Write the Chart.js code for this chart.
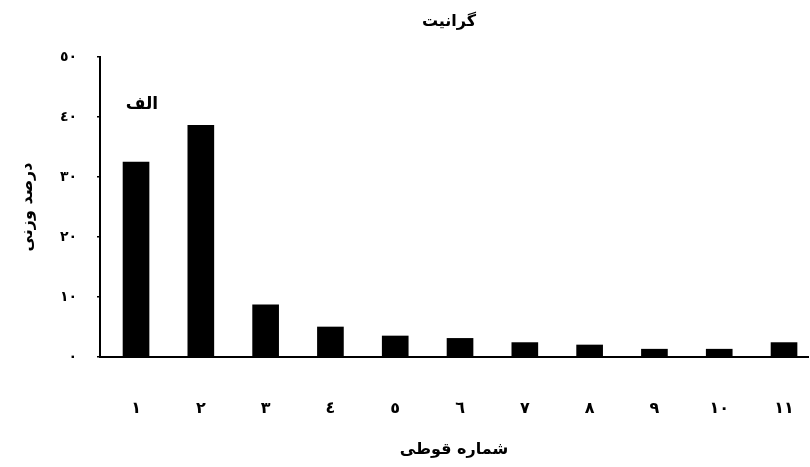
<!DOCTYPE html>
<html>
<head>
<meta charset="utf-8">
<script src="https://cdn.jsdelivr.net/npm/chart.js@4/dist/chart.umd.min.js"></script>
<style>
html,body{margin:0;padding:0;background:#fff;}
#c{display:block;}
</style>
</head>
<body>
<canvas id="c" width="810" height="467"></canvas>
<script>
// ---- data ----
const categories = [1, 2, 3, 4, 5, 6, 7, 8, 9, 10, 11];
const xTickLabels = ['١', '٢', '٣', '٤', '٥', '٦', '٧', '٨', '٩', '١٠', '١١'];
const weightPercent = [32.5, 38.6, 8.7, 5.0, 3.5, 3.1, 2.4, 2.0, 1.3, 1.3, 2.4];
const yTickValues = [0, 10, 20, 30, 40, 50];
const yTickLabels = ['٠', '١٠', '٢٠', '٣٠', '٤٠', '٥٠'];
const chartTitle = 'گرانیت';
const xTitle = 'شماره قوطی';
const yTitle = 'درصد وزنی';
const panelLabel = 'الف';
const panelLabelAt = [1.09, 42];   // data coordinates of the panel label

const FONT = '"DejaVu Sans", sans-serif';

const textPlugin = {
  id: 'texts',
  afterDraw(chart) {
    const ctx = chart.ctx;
    const xs = chart.scales.x, ys = chart.scales.y, ca = chart.chartArea;
    ctx.save();
    ctx.fillStyle = '#000';
    ctx.textAlign = 'center';
    ctx.textBaseline = 'middle';
    ctx.font = 'bold 16px ' + FONT;
    ctx.fillText(chartTitle, (ca.left + ca.right) / 2 - 5, 22);
    ctx.font = 'bold 17px ' + FONT;
    ctx.fillText(panelLabel, xs.getPixelForValue(panelLabelAt[0]), ys.getPixelForValue(panelLabelAt[1]));
    ctx.restore();
  }
};

new Chart(document.getElementById('c'), {
  type: 'bar',
  data: {
    datasets: [{
      data: categories.map((c, i) => ({ x: c, y: weightPercent[i] })),
      backgroundColor: '#000',
      borderWidth: 0,
      barThickness: 26
    }]
  },
  options: {
    responsive: false,
    animation: false,
    layout: { padding: { top: 57, right: 2, left: 0, bottom: 0 } },
    plugins: { legend: { display: false }, title: { display: false }, tooltip: { enabled: false } },
    scales: {
      x: {
        type: 'linear',
        offset: false,
        min: 0.444,
        max: 11.37,
        grid: { display: false, offset: false },
        border: { display: true, color: '#000', width: 2 },
        ticks: {
          stepSize: 1,
          includeBounds: false,
          autoSkip: false,
          maxRotation: 0,
          padding: 34,
          color: '#000',
          font: { family: FONT, size: 16, weight: 'bold' },
          callback: (v) => Number.isInteger(v) && v >= 1 && v <= 11 ? xTickLabels[v - 1] : ''
        },
        title: {
          display: true,
          text: xTitle,
          color: '#000',
          font: { family: FONT, size: 16, weight: 'bold' },
          padding: { top: 0, bottom: 8 }
        },
        afterFit: (s) => { s.height = 110; s.paddingLeft = 0; s.paddingRight = 0; }
      },
      y: {
        min: 0,
        max: 50,
        grid: { display: true, drawOnChartArea: false, drawTicks: true, tickLength: 3, color: '#000', lineWidth: 1.5 },
        border: { display: true, color: '#000', width: 2 },
        afterBuildTicks: (s) => { s.ticks = yTickValues.map(v => ({ value: v })); },
        ticks: {
          padding: 20,
          color: '#000',
          font: { family: FONT, size: 14, weight: 'bold' },
          callback: (v) => yTickLabels[yTickValues.indexOf(v)]
        },
        title: {
          display: true,
          text: yTitle,
          color: '#000',
          font: { family: FONT, size: 16, weight: 'bold' },
          padding: { top: 18, bottom: 0 }
        },
        afterFit: (s) => { s.width = 100; }
      }
    }
  },
  plugins: [textPlugin]
});
</script>
</body>
</html>
